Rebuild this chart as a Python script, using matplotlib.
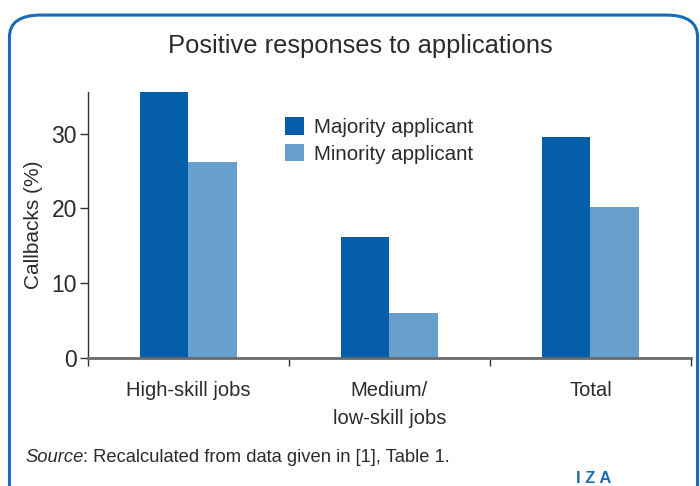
import matplotlib
matplotlib.use("Agg")
import matplotlib.pyplot as plt
from matplotlib.patches import FancyBboxPatch
import numpy as np

categories = ["High-skill jobs", "Medium/\nlow-skill jobs", "Total"]
majority = [35.6, 16.2, 29.5]
minority = [26.2, 6.0, 20.2]
series_names = ["Majority applicant", "Minority applicant"]
yticks = [0, 10, 20, 30]

c_major = "#045ea9"
c_minor = "#679fcd"
txt = "#2b2b2b"

plt.rcParams["font.family"] = ["Liberation Sans", "DejaVu Sans"]

fig = plt.figure(figsize=(7.0, 4.86), dpi=100)
ax = fig.add_axes([0.1257, 0.2644, 0.8614, 0.5463])

x = np.arange(len(categories))
w = 0.243
ax.bar(x - w / 2, majority, width=w, color=c_major, label=series_names[0], zorder=2)
ax.bar(x + w / 2, minority, width=w, color=c_minor, label=series_names[1], zorder=2)

ax.set_xlim(-0.5, 2.5)
ax.set_ylim(0, 35.6)
ax.set_yticks(yticks)
ax.set_xticks(x)
ax.set_xticklabels(categories, fontsize=14.5, color=txt, linespacing=1.6)
ax.set_xticks([-0.5, 0.5, 1.5, 2.5], minor=True)
ax.tick_params(axis="x", which="major", length=0, pad=17)
ax.tick_params(axis="x", which="minor", length=6, width=1, color="#333333", direction="out")
ax.tick_params(axis="y", length=6, width=1, color="#333333", labelsize=16.5, labelcolor=txt, pad=2)

for s in ["top", "right"]:
    ax.spines[s].set_visible(False)
ax.spines["left"].set_color("#333333")
ax.spines["left"].set_linewidth(1)
ax.spines["bottom"].set_color("#6a6a6a")
ax.spines["bottom"].set_linewidth(2)
ax.spines["bottom"].set_zorder(3)

ax.set_ylabel("Callbacks (%)", fontsize=15, color=txt, labelpad=6)

leg = ax.legend(loc="upper left", bbox_to_anchor=(0.3125, 0.935), frameon=False,
                fontsize=14.8, handlelength=0.95, handleheight=0.95, handletextpad=0.5,
                labelspacing=0.3, borderaxespad=0)
for t in leg.get_texts():
    t.set_color(txt)

fig.text(0.5143, 0.905, "Positive responses to applications", ha="center", va="center",
         fontsize=18.4, color=txt)

src1 = fig.text(25 / 700, 1 - 457 / 486, "Source", ha="left", va="center", fontsize=13.2,
                color=txt, style="italic")
fig.canvas.draw()
bb = src1.get_window_extent(renderer=fig.canvas.get_renderer())
fig.text(bb.x1 / 700, 1 - 457 / 486, ": Recalculated from data given in [1], Table 1.",
         ha="left", va="center", fontsize=13.2, color=txt)

fig.text(594 / 700, 1 - 478 / 486, "I Z A", ha="center", va="center", fontsize=12,
         color="#1a6bb8", fontweight="bold")

border = FancyBboxPatch((0.0135, -0.05), 0.983, 1.019, boxstyle="round,pad=0,rounding_size=0.045",
                        transform=fig.transFigure, facecolor="none", edgecolor="#1a6bb8",
                        linewidth=2.2, clip_on=False)
fig.patches.append(border)

fig.savefig("out.png", dpi=100)
